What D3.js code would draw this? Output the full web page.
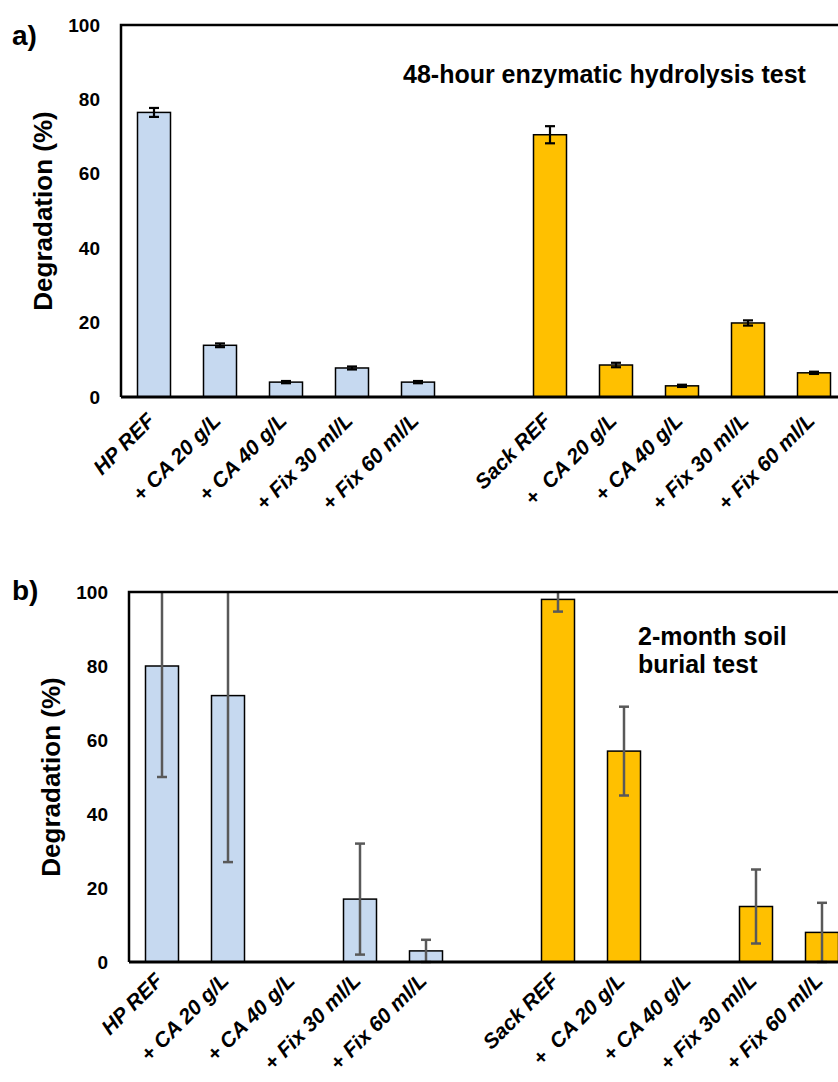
<!DOCTYPE html>
<html>
<head>
<meta charset="utf-8">
<title>Degradation tests</title>
<script src="https://cdn.jsdelivr.net/npm/d3@7"></script>
<style>
  body { margin: 0; background: #fff; }
  text { font-family: Arial, "Liberation Sans", sans-serif; font-weight: bold; fill: #000; }
  .bar-hp { fill: #c6d9f0; stroke: #000; stroke-width: 1.5; }
  .bar-sack { fill: #ffc000; stroke: #000; stroke-width: 1.5; }
</style>
</head>
<body>
<script>
// category labels (slot 5 is the empty gap between the two groups)
var hpLabels   = ["HP REF", "+ CA 20 g/L", "+ CA 40 g/L", "+ Fix 30 ml/L", "+ Fix 60 ml/L"];
var sackLabels = ["Sack REF", "+  CA 20 g/L", "+ CA 40 g/L", "+ Fix 30 ml/L", "+ Fix 60 ml/L"];
var yTicks = [0, 20, 40, 60, 80, 100];

// a) 48-hour enzymatic hydrolysis test
var enzHP       = [76.5, 13.9, 4.0, 7.8, 4.0];
var enzHPErr    = [1.2, 0.5, 0.3, 0.4, 0.3];
var enzSack     = [70.5, 8.6, 3.0, 19.9, 6.5];
var enzSackErr  = [2.3, 0.6, 0.3, 0.7, 0.3];

// b) 2-month soil burial test
var soilHP      = [80, 72, 0, 17, 3];
var soilHPErr   = [30, 45, 0, 15, 3];
var soilSack    = [98, 57, 0, 15, 8];
var soilSackErr = [3.3, 12, 0, 10, 8];

var svg = d3.select("body").append("svg")
    .attr("width", 838)
    .attr("height", 1082);

function panel(opt) {
  var x = d3.scaleBand()
      .domain(d3.range(11))
      .range([opt.left, opt.left + 11 * 66])
      .paddingInner(0.5)
      .paddingOuter(0.25);
  var y = d3.scaleLinear().domain([0, 100]).range([opt.bottom, opt.top]);

  var g = svg.append("g");

  var rows = [];
  opt.hp.forEach(function(v, i) {
    rows.push({slot: i, v: v, e: opt.hpErr[i], cls: "bar-hp"});
  });
  opt.sack.forEach(function(v, i) {
    rows.push({slot: i + 6, v: v, e: opt.sackErr[i], cls: "bar-sack"});
  });

  // bars
  g.selectAll(".bar")
    .data(rows.filter(function(d) { return d.v > 0; }))
    .enter().append("rect")
      .attr("class", function(d) { return d.cls; })
      .attr("x", function(d) { return x(d.slot); })
      .attr("width", x.bandwidth())
      .attr("y", function(d) { return y(d.v); })
      .attr("height", function(d) { return y(0) - y(d.v); });

  // error bars, clipped to the 0-100 range
  var eb = g.selectAll(".err")
    .data(rows.filter(function(d) { return d.e > 0; }))
    .enter().append("g")
      .attr("transform", function(d) { return "translate(" + (x(d.slot) + x.bandwidth() / 2) + ",0)"; })
      .attr("stroke", opt.errColor)
      .attr("stroke-width", opt.errWidth);
  eb.append("line")
      .attr("y1", function(d) { return y(Math.min(100, d.v + d.e)); })
      .attr("y2", function(d) { return y(Math.max(0, d.v - d.e)); });
  eb.filter(function(d) { return d.v + d.e <= 100; }).append("line")
      .attr("x1", -5).attr("x2", 5)
      .attr("y1", function(d) { return y(d.v + d.e); })
      .attr("y2", function(d) { return y(d.v + d.e); });
  eb.filter(function(d) { return d.v - d.e >= 0; }).append("line")
      .attr("x1", -5).attr("x2", 5)
      .attr("y1", function(d) { return y(d.v - d.e); })
      .attr("y2", function(d) { return y(d.v - d.e); });

  // frame: left + top
  g.append("path")
      .attr("d", "M" + opt.left + "," + opt.bottom + "V" + opt.top + "H" + (opt.left + 11 * 66))
      .attr("fill", "none")
      .attr("stroke", "#000")
      .attr("stroke-width", 2.5);
  // bottom axis line
  g.append("line")
      .attr("x1", opt.left).attr("x2", opt.left + 11 * 66)
      .attr("y1", opt.bottom).attr("y2", opt.bottom)
      .attr("stroke", "#000")
      .attr("stroke-width", 3);

  // y axis tick labels
  var ya = g.append("g")
      .attr("transform", "translate(" + opt.left + ",0)")
      .call(d3.axisLeft(y).tickValues(yTicks).tickSize(0).tickPadding(21));
  ya.select(".domain").remove();
  ya.selectAll("text")
      .style("font-size", "19px")
      .style("font-family", "Arial, 'Liberation Sans', sans-serif")
      .style("font-weight", "bold")
      .attr("fill", "#000");

  // category labels
  var labels = hpLabels.map(function(t, i) { return {slot: i, t: t}; })
      .concat(sackLabels.map(function(t, i) { return {slot: i + 6, t: t}; }));
  g.selectAll(".cat")
    .data(labels)
    .enter().append("text")
      .attr("text-anchor", "end")
      .style("font-size", "21px")
      .style("font-style", "italic")
      .style("white-space", "pre")
      .attr("transform", function(d) {
        return "translate(" + (x(d.slot) + x.bandwidth() / 2 + 2) + "," + (opt.bottom + opt.labelDy) + ") rotate(-45)";
      })
      .text(function(d) { return d.t; });

  // y axis title
  g.append("text")
      .attr("text-anchor", "middle")
      .style("font-size", "26px")
      .attr("transform", "translate(" + opt.yLabelX + "," + ((opt.top + opt.bottom) / 2) + ") rotate(-90)")
      .text("Degradation (%)");

  // panel letter
  g.append("text")
      .attr("x", 12).attr("y", opt.letterY)
      .style("font-size", "28px")
      .text(opt.letter);

  // in-plot title
  var t = g.append("text")
      .attr("x", opt.titleX).attr("y", opt.titleY)
      .style("font-size", "25px");
  opt.title.forEach(function(line, i) {
    t.append("tspan").attr("x", opt.titleX).attr("dy", i === 0 ? 0 : 28).text(line);
  });
}

panel({
  left: 121, top: 25, bottom: 397, labelDy: 25,
  hp: enzHP, hpErr: enzHPErr, sack: enzSack, sackErr: enzSackErr,
  errColor: "#000", errWidth: 2.2,
  yLabelX: 52, letter: "a)", letterY: 45,
  title: ["48-hour enzymatic hydrolysis test"], titleX: 403, titleY: 83
});

panel({
  left: 129, top: 592, bottom: 962, labelDy: 20,
  hp: soilHP, hpErr: soilHPErr, sack: soilSack, sackErr: soilSackErr,
  errColor: "#595959", errWidth: 2.5,
  yLabelX: 60, letter: "b)", letterY: 600,
  title: ["2-month soil", "burial test"], titleX: 638, titleY: 645
});
</script>
</body>
</html>
